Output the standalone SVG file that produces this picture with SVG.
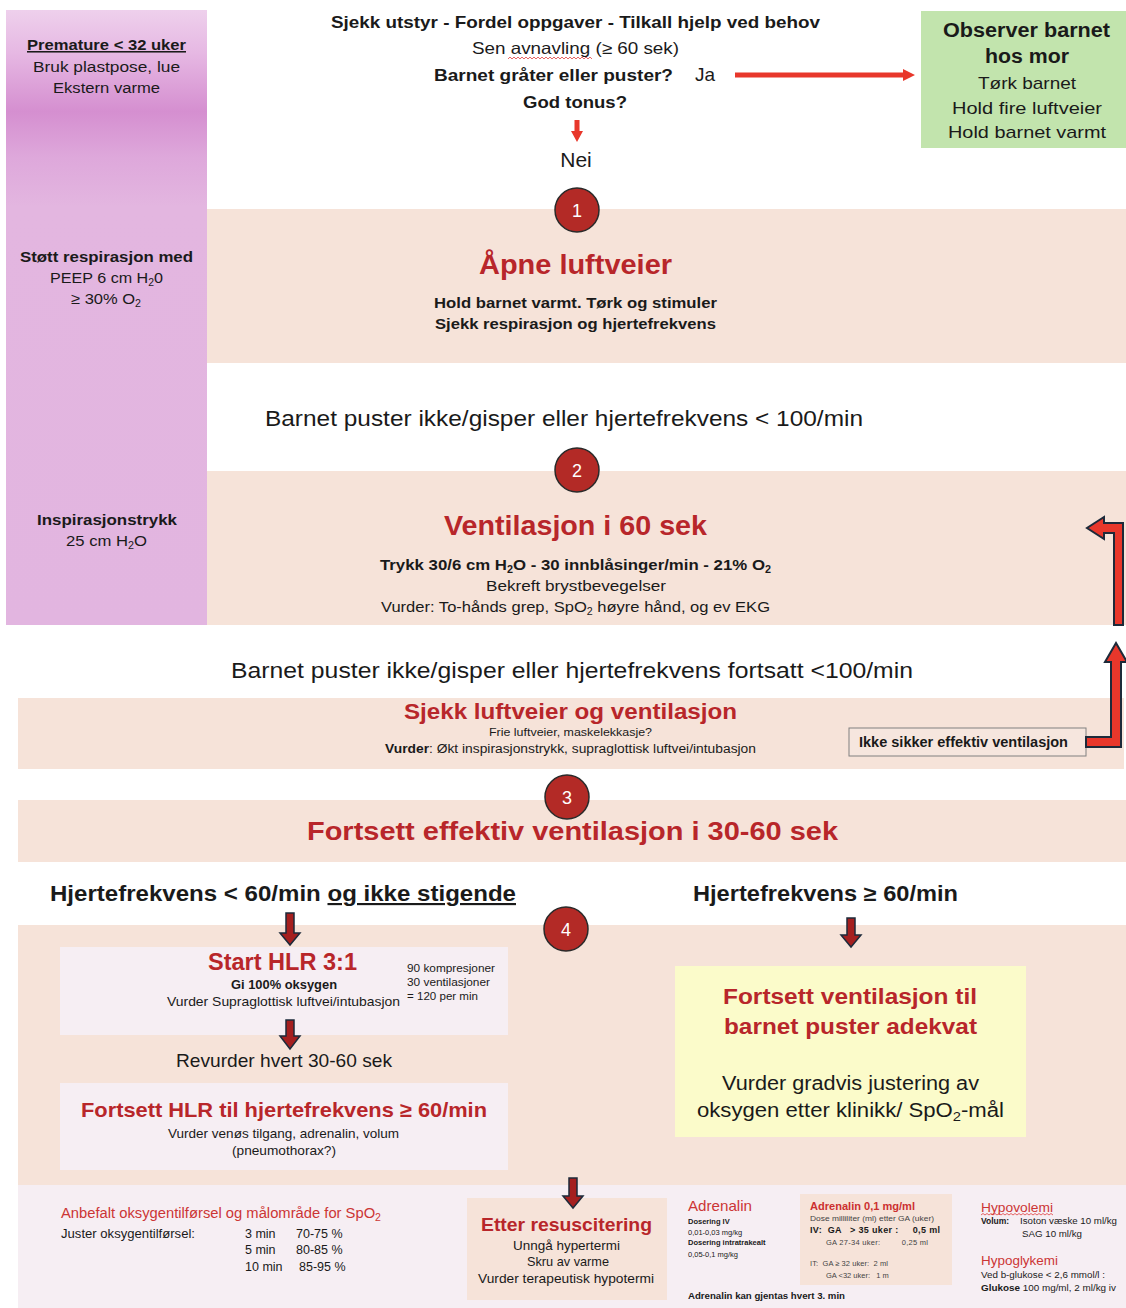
<svg xmlns="http://www.w3.org/2000/svg" width="1126" height="1308" viewBox="0 0 1126 1308">
<defs>
<linearGradient id="purp" x1="0" y1="0" x2="0" y2="1">
<stop offset="0" stop-color="#eed0ec"/>
<stop offset="0.07" stop-color="#e6b8e3"/>
<stop offset="0.165" stop-color="#d58fd0"/>
<stop offset="0.24" stop-color="#dea8db"/>
<stop offset="0.32" stop-color="#e3b6e0"/>
<stop offset="1" stop-color="#e2b5e0"/>
</linearGradient>
<style>
text{font-family:"Liberation Sans",Arial,sans-serif;fill:#1a1a1a}
.c{text-anchor:middle}
.b{font-weight:bold}
.t{font-weight:bold;fill:#b8262a}
.rl{fill:#cc3535}
.g{fill:#444}
.peach{fill:#f6e3d9}
.pale{fill:#f6eef3}
.circ{fill:#b32a26;stroke:#2a2a2a;stroke-width:1.5}
.num{fill:#fff;font-size:18px;text-anchor:middle}
.darr{fill:#a51f1f;stroke:#1d2a3a;stroke-width:1.5}
.barr{fill:#e8372b;stroke:#1d2a3a;stroke-width:2}
.squig{fill:none;stroke:#e04040;stroke-width:0.8}
</style>
</defs>
<rect width="1126" height="1308" fill="#fff"/>

<g id="bands">
<rect x="207" y="209" width="919" height="154" class="peach"/>
<rect x="207" y="471" width="919" height="154" class="peach"/>
<rect x="18" y="698" width="1106" height="71" class="peach"/>
<rect x="18" y="800" width="1108" height="62" class="peach"/>
<rect x="18" y="925" width="1108" height="260" class="peach"/>
<rect x="18" y="1185" width="1108" height="123" class="pale"/>
</g>

<g id="premature-column">
<rect x="6" y="10" width="201" height="615" fill="url(#purp)"/>
<text x="106.5" y="50" class="c b" font-size="15.5" text-decoration="underline" textLength="159" lengthAdjust="spacingAndGlyphs">Premature &lt; 32 uker</text>
<text x="106.5" y="72" class="c" font-size="15.5" textLength="147" lengthAdjust="spacingAndGlyphs">Bruk plastpose, lue</text>
<text x="106.5" y="93" class="c" font-size="15.5" textLength="107" lengthAdjust="spacingAndGlyphs">Ekstern varme</text>
<text x="106.5" y="262" class="c b" font-size="15.5" textLength="173" lengthAdjust="spacingAndGlyphs">Støtt respirasjon med</text>
<text x="106.5" y="283" class="c" font-size="15.5" textLength="113" lengthAdjust="spacingAndGlyphs">PEEP 6 cm H<tspan font-size="10" dy="3">2</tspan><tspan dy="-3">0</tspan></text>
<text x="106" y="304" class="c" font-size="15.5" textLength="70" lengthAdjust="spacingAndGlyphs">≥ 30% O<tspan font-size="10" dy="3">2</tspan></text>
<text x="107" y="525" class="c b" font-size="15.5" textLength="140" lengthAdjust="spacingAndGlyphs">Inspirasjonstrykk</text>
<text x="106.5" y="546" class="c" font-size="15.5" textLength="81" lengthAdjust="spacingAndGlyphs">25 cm H<tspan font-size="10" dy="3">2</tspan><tspan dy="-3">O</tspan></text>
</g>

<g id="start">
<text x="575.5" y="28" class="c b" font-size="16.5" textLength="489" lengthAdjust="spacingAndGlyphs">Sjekk utstyr - Fordel oppgaver - Tilkall hjelp ved behov</text>
<text x="575.5" y="54" class="c" font-size="16.5" textLength="207" lengthAdjust="spacingAndGlyphs">Sen avnavling (≥ 60 sek)</text>
<path class="squig" d="M508 59 l2 -2 l2 2 l2 -2 l2 2 l2 -2 l2 2 l2 -2 l2 2 l2 -2 l2 2 l2 -2 l2 2 l2 -2 l2 2 l2 -2 l2 2 l2 -2 l2 2 l2 -2 l2 2 l2 -2 l2 2 l2 -2 l2 2 l2 -2 l2 2 l2 -2 l2 2 l2 -2 l2 2 l2 -2 l2 2 l2 -2 l2 2 l2 -2 l2 2 l2 -2 l2 2 l2 -2 l2 2 l2 -2 l2 2"/>
<text x="553.5" y="81" class="c b" font-size="16.5" textLength="239" lengthAdjust="spacingAndGlyphs">Barnet gråter eller puster?</text>
<text x="695" y="81" font-size="19">Ja</text>
<text x="575" y="108" class="c b" font-size="16.5" textLength="104" lengthAdjust="spacingAndGlyphs">God tonus?</text>
<text x="576" y="167" class="c" font-size="21">Nei</text>
</g>

<g id="observer">
<rect x="921" y="11" width="205" height="137" fill="#c2e4ad"/>
<text x="1026.5" y="37" class="c b" font-size="20" textLength="167" lengthAdjust="spacingAndGlyphs">Observer barnet</text>
<text x="1027" y="63" class="c b" font-size="20" textLength="84" lengthAdjust="spacingAndGlyphs">hos mor</text>
<text x="1027" y="89" class="c" font-size="17" textLength="98" lengthAdjust="spacingAndGlyphs">Tørk barnet</text>
<text x="1027" y="114" class="c" font-size="17" textLength="150" lengthAdjust="spacingAndGlyphs">Hold fire luftveier</text>
<text x="1027" y="138" class="c" font-size="17" textLength="158" lengthAdjust="spacingAndGlyphs">Hold barnet varmt</text>
</g>

<g id="step1">
<circle cx="577" cy="210" r="22" class="circ"/>
<text x="577" y="217" class="num">1</text>
<text x="575.5" y="274" class="c t" font-size="27" textLength="193" lengthAdjust="spacingAndGlyphs">Åpne luftveier</text>
<text x="575.5" y="308" class="c b" font-size="15.5" textLength="283" lengthAdjust="spacingAndGlyphs">Hold barnet varmt. Tørk og stimuler</text>
<text x="575.5" y="329" class="c b" font-size="15.5" textLength="281" lengthAdjust="spacingAndGlyphs">Sjekk respirasjon og hjertefrekvens</text>
</g>

<text x="564" y="426" class="c" font-size="21.5" textLength="598" lengthAdjust="spacingAndGlyphs">Barnet puster ikke/gisper eller hjertefrekvens &lt; 100/min</text>

<g id="step2">
<circle cx="577" cy="470" r="22" class="circ"/>
<text x="577" y="477" class="num">2</text>
<text x="575.5" y="535" class="c t" font-size="27" textLength="263" lengthAdjust="spacingAndGlyphs">Ventilasjon i 60 sek</text>
<text x="575.5" y="570" class="c b" font-size="15.5" textLength="391" lengthAdjust="spacingAndGlyphs">Trykk 30/6 cm H<tspan font-size="10" dy="3">2</tspan><tspan dy="-3">O - 30 innblåsinger/min - 21% O</tspan><tspan font-size="10" dy="3">2</tspan></text>
<text x="576" y="591" class="c" font-size="15.5" textLength="180" lengthAdjust="spacingAndGlyphs">Bekreft brystbevegelser</text>
<text x="575.5" y="612" class="c" font-size="15.5" textLength="389" lengthAdjust="spacingAndGlyphs">Vurder: To-hånds grep, SpO<tspan font-size="10" dy="3">2</tspan><tspan dy="-3"> høyre hånd, og ev EKG</tspan></text>
</g>

<text x="572" y="678" class="c" font-size="21.5" textLength="682" lengthAdjust="spacingAndGlyphs">Barnet puster ikke/gisper eller hjertefrekvens fortsatt &lt;100/min</text>

<g id="sjekk">
<text x="570.5" y="719" class="c t" font-size="21.5" textLength="333" lengthAdjust="spacingAndGlyphs">Sjekk luftveier og ventilasjon</text>
<text x="570.5" y="736" class="c" font-size="11" textLength="163" lengthAdjust="spacingAndGlyphs">Frie luftveier, maskelekkasje?</text>
<text x="570.5" y="753" class="c" font-size="12.5" textLength="371" lengthAdjust="spacingAndGlyphs"><tspan class="b">Vurder</tspan>: Økt inspirasjonstrykk, supraglottisk luftvei/intubasjon</text>
</g>

<g id="ikke-sikker">
<rect x="849" y="728" width="237" height="28" fill="#f6e6de" stroke="#808080" stroke-width="1"/>
<text x="859" y="747" class="b" font-size="14" textLength="209" lengthAdjust="spacingAndGlyphs">Ikke sikker effektiv ventilasjon</text>
</g>

<g id="step3">
<circle cx="567" cy="797" r="22" class="circ"/>
<text x="567" y="804" class="num">3</text>
<text x="572.5" y="840" class="c t" font-size="26" textLength="531" lengthAdjust="spacingAndGlyphs">Fortsett effektiv ventilasjon i 30-60 sek</text>
</g>

<g id="hr-labels">
<text x="50" y="901" class="b" font-size="21.5" textLength="466" lengthAdjust="spacingAndGlyphs">Hjertefrekvens &lt; 60/min <tspan text-decoration="underline">og ikke stigende</tspan></text>
<text x="693" y="901" class="b" font-size="21.5" textLength="265" lengthAdjust="spacingAndGlyphs">Hjertefrekvens ≥ 60/min</text>
</g>

<g id="step4">
<circle cx="566" cy="929" r="22" class="circ"/>
<text x="566" y="936" class="num">4</text>
</g>

<g id="start-hlr">
<rect x="60" y="947" width="448" height="88" class="pale"/>
<text x="282.5" y="970" class="c t" font-size="23.5" textLength="149" lengthAdjust="spacingAndGlyphs">Start HLR 3:1</text>
<text x="284" y="989" class="c b" font-size="12.5" textLength="106" lengthAdjust="spacingAndGlyphs">Gi 100% oksygen</text>
<text x="283.5" y="1006" class="c" font-size="13" textLength="233" lengthAdjust="spacingAndGlyphs">Vurder Supraglottisk luftvei/intubasjon</text>
<text x="407" y="972" font-size="11" textLength="88" lengthAdjust="spacingAndGlyphs">90 kompresjoner</text>
<text x="407" y="986" font-size="11" textLength="83" lengthAdjust="spacingAndGlyphs">30 ventilasjoner</text>
<text x="407" y="1000" font-size="11" textLength="71" lengthAdjust="spacingAndGlyphs">= 120 per min</text>
</g>

<text x="284" y="1067" class="c" font-size="18.5" textLength="216" lengthAdjust="spacingAndGlyphs">Revurder hvert 30-60 sek</text>

<g id="fortsett-hlr">
<rect x="60" y="1083" width="448" height="87" class="pale"/>
<text x="284" y="1117" class="c t" font-size="20.5" textLength="406" lengthAdjust="spacingAndGlyphs">Fortsett HLR til hjertefrekvens ≥ 60/min</text>
<text x="283.5" y="1138" class="c" font-size="13" textLength="231" lengthAdjust="spacingAndGlyphs">Vurder venøs tilgang, adrenalin, volum</text>
<text x="284" y="1155" class="c" font-size="13" textLength="104" lengthAdjust="spacingAndGlyphs">(pneumothorax?)</text>
</g>

<g id="fortsett-vent">
<rect x="675" y="966" width="351" height="171" fill="#fbfbca"/>
<text x="850" y="1004" class="c t" font-size="21.5" textLength="254" lengthAdjust="spacingAndGlyphs">Fortsett ventilasjon til</text>
<text x="850.5" y="1034" class="c t" font-size="21.5" textLength="253" lengthAdjust="spacingAndGlyphs">barnet puster adekvat</text>
<text x="850.5" y="1090" class="c" font-size="19.5" textLength="257" lengthAdjust="spacingAndGlyphs">Vurder gradvis justering av</text>
<text x="850.5" y="1117" class="c" font-size="19.5" textLength="307" lengthAdjust="spacingAndGlyphs">oksygen etter klinikk/ SpO<tspan font-size="13" dy="4">2</tspan><tspan dy="-4">-mål</tspan></text>
</g>

<g id="oksygen">
<text x="61" y="1218" class="rl" font-size="14" textLength="320" lengthAdjust="spacingAndGlyphs">Anbefalt oksygentilførsel og målområde for SpO<tspan font-size="10" dy="3">2</tspan></text>
<text x="61" y="1238" font-size="12.5" textLength="134" lengthAdjust="spacingAndGlyphs">Juster oksygentilførsel:</text>
<text x="245" y="1238" font-size="12.5">3 min</text>
<text x="296" y="1238" font-size="12.5">70-75 %</text>
<text x="245" y="1254" font-size="12.5">5 min</text>
<text x="296" y="1254" font-size="12.5">80-85 %</text>
<text x="245" y="1271" font-size="12.5">10 min</text>
<text x="299" y="1271" font-size="12.5">85-95 %</text>
</g>

<g id="etter">
<rect x="467" y="1198" width="200" height="102" class="peach"/>
<text x="566.5" y="1231" class="c t" font-size="18.5" textLength="171" lengthAdjust="spacingAndGlyphs">Etter resuscitering</text>
<text x="566.5" y="1250" class="c" font-size="13" textLength="107" lengthAdjust="spacingAndGlyphs">Unngå hypertermi</text>
<text x="568" y="1266" class="c" font-size="13" textLength="82" lengthAdjust="spacingAndGlyphs">Skru av varme</text>
<text x="566" y="1283" class="c" font-size="13" textLength="176" lengthAdjust="spacingAndGlyphs">Vurder terapeutisk hypotermi</text>
</g>

<g id="adrenalin">
<text x="688" y="1211" class="rl" font-size="15" textLength="64" lengthAdjust="spacingAndGlyphs">Adrenalin</text>
<text x="688" y="1224" class="b" font-size="7.5">Dosering IV</text>
<text x="688" y="1235" font-size="7.5">0,01-0,03 mg/kg</text>
<text x="688" y="1245" class="b" font-size="7.5">Dosering intratrakealt</text>
<text x="688" y="1257" font-size="7.5">0,05-0,1 mg/kg</text>
<text x="688" y="1299" class="b" font-size="9" textLength="157" lengthAdjust="spacingAndGlyphs">Adrenalin kan gjentas hvert 3. min</text>
</g>

<g id="adrenalin-dose">
<rect x="800" y="1194" width="152" height="91" class="peach"/>
<text x="810" y="1210" class="t" font-size="10.5" style="fill:#cc3030" textLength="105" lengthAdjust="spacingAndGlyphs">Adrenalin 0,1 mg/ml</text>
<text x="810" y="1221" class="g" font-size="7.5" textLength="124" lengthAdjust="spacingAndGlyphs">Dose milliliter (ml) etter GA (uker)</text>
<text x="810" y="1233" class="b" font-size="9" xml:space="preserve" textLength="130" lengthAdjust="spacing">IV:  GA   &gt; 35 uker :     0,5 ml</text>
<text x="826" y="1245" class="g" font-size="7.5" xml:space="preserve" textLength="102" lengthAdjust="spacing">GA 27-34 uker:         0,25 ml</text>
<text x="810" y="1266" class="g" font-size="7.5" xml:space="preserve" textLength="78" lengthAdjust="spacing">IT:  GA ≥ 32 uker:  2 ml</text>
<text x="826" y="1278" class="g" font-size="7.5" xml:space="preserve">GA &lt;32 uker:   1 m</text>
</g>

<g id="hypo">
<text x="981" y="1212" class="rl" font-size="13.5" textLength="72" lengthAdjust="spacingAndGlyphs">Hypovolemi</text>
<path class="squig" d="M981 1215 l2 -1.5 l2 1.5 l2 -1.5 l2 1.5 l2 -1.5 l2 1.5 l2 -1.5 l2 1.5 l2 -1.5 l2 1.5 l2 -1.5 l2 1.5 l2 -1.5 l2 1.5 l2 -1.5 l2 1.5 l2 -1.5 l2 1.5 l2 -1.5 l2 1.5 l2 -1.5 l2 1.5 l2 -1.5 l2 1.5 l2 -1.5 l2 1.5 l2 -1.5 l2 1.5 l2 -1.5 l2 1.5 l2 -1.5 l2 1.5 l2 -1.5 l2 1.5 l2 -1.5 l2 1.5"/>
<text x="981" y="1224" class="b" font-size="8.5">Volum:</text>
<text x="1020" y="1224" font-size="8.5" textLength="97" lengthAdjust="spacingAndGlyphs">Isoton væske 10 ml/kg</text>
<text x="1022" y="1237" font-size="8.5" textLength="60" lengthAdjust="spacingAndGlyphs">SAG  10 ml/kg</text>
<text x="981" y="1265" class="rl" font-size="13.5" textLength="77" lengthAdjust="spacingAndGlyphs">Hypoglykemi</text>
<text x="981" y="1278" font-size="8.5" textLength="124" lengthAdjust="spacingAndGlyphs">Ved b-glukose &lt; 2,6 mmol/l :</text>
<text x="981" y="1291" font-size="8.5" textLength="135" lengthAdjust="spacingAndGlyphs"><tspan class="b">Glukose</tspan> 100 mg/ml, 2 ml/kg  iv</text>
</g>

<g id="connectors">
<polygon points="735,72.5 903,72.5 903,69 915,75 903,81 903,77.5 735,77.5" fill="#e8372b"/>
<polygon points="574.5,120 579.5,120 579.5,131 583,131 577,142 571,131 574.5,131" fill="#e8372b"/>
<polygon class="darr" points="286,913 294,913 294,933 300,933 290,945 280,933 286,933"/>
<polygon class="darr" points="847,918 855,918 855,935 861,935 851,947 841,935 847,935"/>
<polygon class="darr" points="286,1020 294,1020 294,1036 300,1036 290,1049 280,1036 286,1036"/>
<polygon class="darr" points="569,1178 577,1178 577,1196 583,1196 573,1208 563,1196 569,1196"/>
<polygon class="barr" points="1123,625 1123,523 1104,523 1104,517 1087,528 1104,539 1104,533 1114,533 1114,625"/>
<polygon class="barr" points="1086,737 1111,737 1111,662 1105,662 1116,643 1127,662 1121,662 1121,747 1086,747"/>
</g>
</svg>
